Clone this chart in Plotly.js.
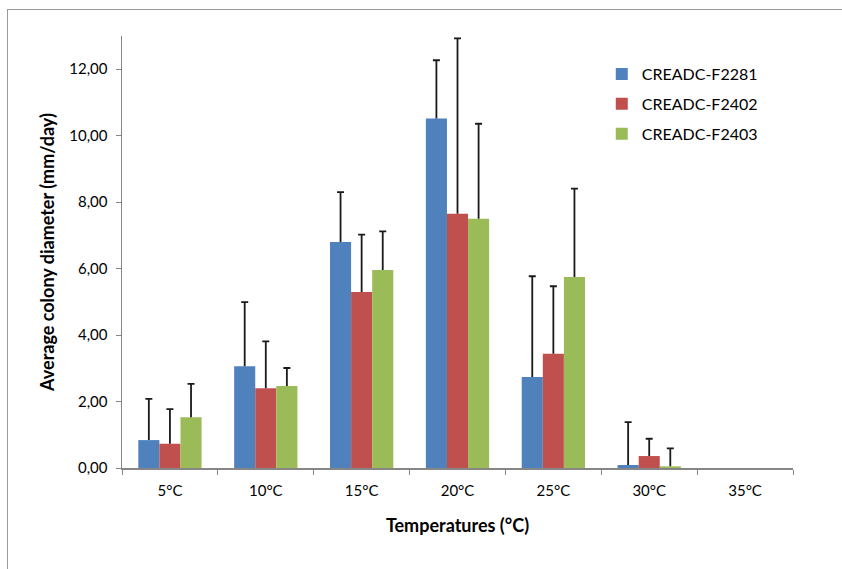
<!DOCTYPE html>
<html>
<head>
<meta charset="utf-8">
<script src="https://cdn.plot.ly/plotly-3.0.1.min.js"></script>
<style>
html,body{margin:0;padding:0;background:#fff;}
#wrap{position:relative;width:842px;height:569px;}
#chart{width:842px;height:569px;}
#frame{position:absolute;left:7px;top:9px;width:900px;height:700px;border-top:1.5px solid #9a9a9a;border-left:1.5px solid #9a9a9a;pointer-events:none;}
</style>
</head>
<body>
<div id="wrap"><div id="chart"></div><div id="frame"></div></div>
<script>
const categories = ['5°C','10°C','15°C','20°C','25°C','30°C','35°C'];
const seriesNames = ['CREADC-F2281','CREADC-F2402','CREADC-F2403'];
const f2281 = [0.84, 3.06, 6.80, 10.52, 2.74, 0.09, 0];
const f2402 = [0.73, 2.40, 5.30, 7.65, 3.44, 0.36, 0];
const f2403 = [1.53, 2.47, 5.96, 7.50, 5.75, 0.05, 0];
const err2281 = [1.24, 1.93, 1.50, 1.75, 3.03, 1.29, 0];
const err2402 = [1.04, 1.41, 1.72, 5.28, 2.03, 0.52, 0];
const err2403 = [1.00, 0.54, 1.16, 2.86, 2.66, 0.54, 0];
const colors = ['#4F81BD','#C0504D','#9BBB59'];

const vals = [f2281, f2402, f2403];
const errs = [err2281, err2402, err2403];
const traces = vals.map((v,i)=>({
  type:'bar', x:categories, y:v, name:seriesNames[i], legendgroup:'g'+i,
  marker:{color:colors[i], line:{width:0}},
  error_y:{type:'data', symmetric:false, array:errs[i], arrayminus:v.map(()=>0), color:'#1a1a1a', thickness:1.8, width:3.5, visible:true}
}));

const layout = {
  width:842, height:569,
  margin:{l:122, r:49, t:36, b:101},
  paper_bgcolor:'#fff', plot_bgcolor:'#fff',
  font:{family:'Lato, "Liberation Sans", sans-serif', color:'#000'},
  barmode:'group', bargap:0.34, bargroupgap:0,
  showlegend:true,
  legend:{x:0.715, y:0.951, xanchor:'left', yanchor:'top', xref:'paper', yref:'paper', font:{size:16}, tracegroupgap:6, bgcolor:'rgba(0,0,0,0)'},
  xaxis:{
    type:'category', tickson:'boundaries', ticks:'outside', ticklen:5, tickcolor:'#868686',
    showline:true, linecolor:'#868686', linewidth:1.5, showgrid:false, zeroline:false,
    ticklabelstandoff:8,
    tickfont:{size:15}, title:{text:'<b>Temperatures (°C)</b>', font:{size:18}, standoff:22}
  },
  yaxis:{
    range:[0,13], tickvals:[0,2,4,6,8,10,12], tickformat:'.2f', ticks:'outside', ticklen:5, tickcolor:'#868686',
    showline:true, linecolor:'#868686', linewidth:1.5, showgrid:false, zeroline:false,
    ticklabelstandoff:5,
    tickfont:{size:15}, title:{text:'<b>Average colony diameter (mm/day)</b>', font:{size:18}, standoff:10}
  },
  separators:',.'
};
Plotly.newPlot('chart', traces, layout, {displayModeBar:false, staticPlot:true}).then(()=>{
  // Excel-style one-sided error bars: keep only the top cap; drop zero-length ones
  document.querySelectorAll('#chart g.errorbar path').forEach(p=>{
    let d = p.getAttribute('d') || '';
    d = d.replace(/m-?[\d.]+,0h[\d.]+\s*$/,'');
    const m = d.match(/^M[-\d.]+,([-\d.]+).*V([-\d.]+)/);
    if(m && Math.abs(parseFloat(m[1]) - parseFloat(m[2])) < 0.5) { p.remove(); return; }
    p.setAttribute('d', d);
  });
});
</script>
</body>
</html>
